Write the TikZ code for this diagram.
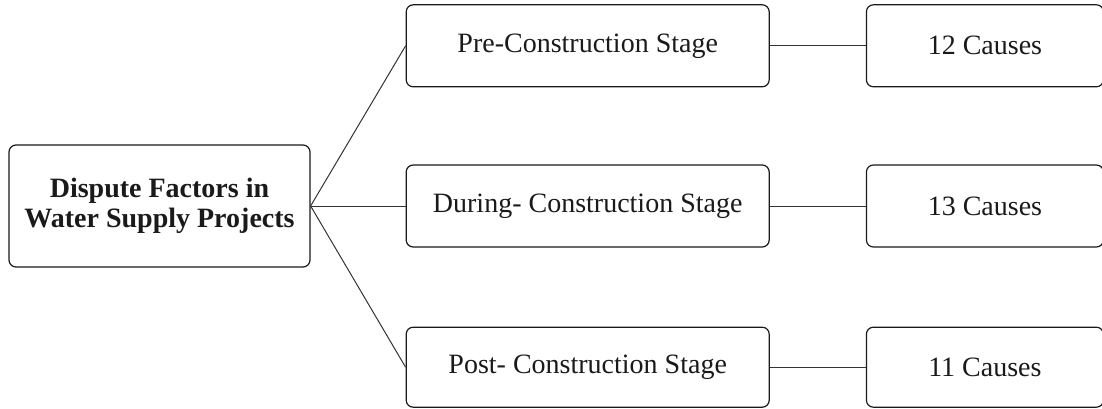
\documentclass[tikz,border=0pt]{standalone}
\usepackage{fontspec}
\setmainfont{Liberation Serif}
\usepackage{xcolor}
\usetikzlibrary{positioning}
\definecolor{ink}{HTML}{1A1A1A}
\definecolor{wire}{HTML}{333333}
\tikzset{
  every picture/.style={line width=1.2pt, draw=ink, text=ink, font=\fontsize{28}{30}\selectfont},
  box/.style={draw=ink, fill=white, rounded corners=7pt, align=center, inner sep=4pt},
  stagebox/.style={box, minimum width=363pt, minimum height=82pt},
  causebox/.style={box, minimum width=237pt, minimum height=82pt},
  link/.style={draw=wire, line width=1pt},
}
\begin{document}
\begin{tikzpicture}[x=1pt, y=-1pt]
\useasboundingbox (0,0) rectangle (1102,409);
\node[box, minimum width=301pt, minimum height=122pt, font=\fontsize{28}{30}\selectfont\bfseries] (root) at (159.5,206) {Dispute Factors in\\Water Supply Projects};
\node[stagebox, right=95pt of root] (during) {During- Construction Stage};
\node[stagebox, above=77pt of during] (pre) {Pre-Construction Stage};
\node[stagebox, below=79pt of during, minimum height=80pt] (post) {Post- Construction Stage};
\node[causebox, right=96pt of pre] (c12) {12 Causes};
\node[causebox, right=96pt of during] (c13) {13 Causes};
\node[causebox, right=96pt of post, minimum height=80pt] (c11) {11 Causes};
\foreach \s in {pre, during, post} \draw[link] (root.east) -- (\s.west);
\foreach \a/\b in {pre/c12, during/c13, post/c11} \draw[link] (\a) -- (\b);
\end{tikzpicture}
\end{document}
